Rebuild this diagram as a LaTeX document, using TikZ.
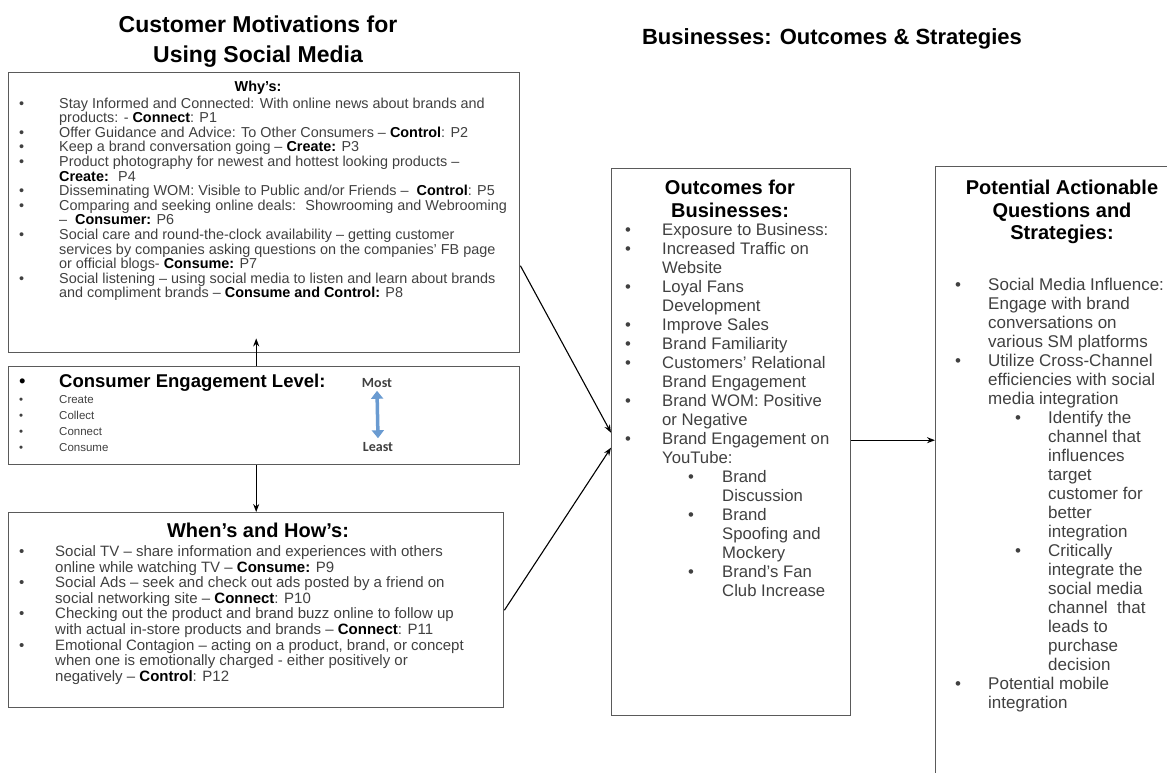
\documentclass[tikz,border=0pt]{standalone}
\usepackage{fontspec}
\setmainfont{Liberation Sans}
\newfontfamily\calib{Carlito}
\usetikzlibrary{arrows.meta}
\definecolor{bodygray}{HTML}{404040}
\definecolor{boxgray}{HTML}{5A5A5A}
\definecolor{lightblue}{HTML}{6A9BD1}
\newcommand{\kw}[1]{\textbf{\color{black}#1}}
\newcommand{\bu}[1]{\makebox[#1pt][l]{•}}
\newcommand{\ind}[1]{\hspace*{#1pt}}
\begin{document}
\begin{tikzpicture}[x=1pt,y=-1pt,
  box/.style={draw=boxgray, line width=1.4pt, anchor=north west, inner sep=0pt},
  txt/.style={anchor=north west, align=left, inner sep=0pt, text=bodygray},
  head/.style={align=center, inner sep=0pt, text=black, font=\bfseries},
  arr/.style={draw=black, line width=1.1pt, -{Stealth[length=8pt,width=6pt]}},
  ]
\useasboundingbox (0,0) rectangle (1167,772);

% titles
\node[head, anchor=north, font={\fontsize{23}{30}\selectfont\bfseries}] (t1) at (258,16) {Customer Motivations for\\Using Social Media};
\node[head, font={\fontsize{22}{26}\selectfont\bfseries}] (t2) at (832,39) {Businesses: Outcomes \& Strategies};

% boxes
\node[box, minimum width=511pt, minimum height=280pt] (why) at (8,72) {};
\node[box, minimum width=511pt, minimum height=98pt] (eng) at (8,366) {};
\node[box, minimum width=495pt, minimum height=195pt] (when) at (8,512) {};
\node[box, minimum width=239pt, minimum height=547pt] (out) at (611,168) {};
\node[box, minimum width=270pt, minimum height=640pt] (strat) at (935,166) {};

% Why's
\node[head, font={\fontsize{14.4}{15}\selectfont\bfseries}] (whyhead) at (258,88) {Why's:};
\node[txt, font={\fontsize{14.4}{14.6}\selectfont}] (whytxt) at (19,97.5) {%
\bu{40}Stay Informed and Connected: With online news about brands and\\
\ind{40}products: - \kw{Connect}: P1\\
\bu{40}Offer Guidance and Advice: To Other Consumers – \kw{Control}: P2\\
\bu{40}Keep a brand conversation going – \kw{Create:} P3\\
\bu{40}Product photography for newest and hottest looking products –\\
\ind{40}\kw{Create:}~ P4\\
\bu{40}Disseminating WOM: Visible to Public and/or Friends – ~\kw{Control}: P5\\
\bu{40}Comparing and seeking online deals: ~Showrooming and Webrooming\\
\ind{40}– ~\kw{Consumer:} P6\\
\bu{40}Social care and round-the-clock availability – getting customer\\
\ind{40}services by companies asking questions on the companies’ FB page\\
\ind{40}or official blogs- \kw{Consume:} P7\\
\bu{40}Social listening – using social media to listen and learn about brands\\
\ind{40}and compliment brands – \kw{Consume and Control:} P8};

% Engagement
\node[txt, anchor=west, text=black, font={\fontsize{18.5}{20}\selectfont}] (enghead) at (19,383) {\bu{40}\textbf{Consumer Engagement Level:}};
\node[txt, font={\fontsize{11.5}{16}\selectfont}] (engtxt) at (19,395.6) {%
\bu{40}Create\\
\bu{40}Collect\\
\bu{40}Connect\\
\bu{40}Consume};
\node[inner sep=0pt, font={\calib\fontsize{14}{16}\selectfont\bfseries}, text=bodygray] (most) at (377,383) {Most};
\node[inner sep=0pt, font={\calib\fontsize{14}{16}\selectfont\bfseries}, text=bodygray] (least) at (378,447) {Least};
\draw[draw=lightblue, line width=3.5pt, {Triangle[length=8pt,width=12pt]}-{Triangle[length=8pt,width=12pt]}] ([yshift=-3pt]most.south) -- ([yshift=4pt]least.north);

% When's
\node[head, font={\fontsize{20}{22}\selectfont\bfseries}] (whenhead) at (258,530) {When's and How's:};
\node[txt, font={\fontsize{15}{15.6}\selectfont}] (whentxt) at (19,545.5) {%
\bu{36}Social TV – share information and experiences with others\\
\ind{36}online while watching TV – \kw{Consume:} P9\\
\bu{36}Social Ads – seek and check out ads posted by a friend on\\
\ind{36}social networking site – \kw{Connect}: P10\\
\bu{36}Checking out the product and brand buzz online to follow up\\
\ind{36}with actual in-store products and brands – \kw{Connect}: P11\\
\bu{36}Emotional Contagion – acting on a product, brand, or concept\\
\ind{36}when one is emotionally charged - either positively or\\
\ind{36}negatively – \kw{Control}: P12};

% Outcomes
\node[head, anchor=north, font={\fontsize{20}{22.5}\selectfont\bfseries}] (outhead) at (730,180) {Outcomes for\\Businesses:};
\node[txt, font={\fontsize{16.7}{19}\selectfont}] (outtxt) at (625,223) {%
\bu{37}Exposure to Business:\\
\bu{37}Increased Traffic on\\
\ind{37}Website\\
\bu{37}Loyal Fans\\
\ind{37}Development\\
\bu{37}Improve Sales\\
\bu{37}Brand Familiarity\\
\bu{37}Customers’ Relational\\
\ind{37}Brand Engagement\\
\bu{37}Brand WOM: Positive\\
\ind{37}or Negative\\
\bu{37}Brand Engagement on\\
\ind{37}YouTube:\\
\ind{63}\bu{34}Brand\\
\ind{97}Discussion\\
\ind{63}\bu{34}Brand\\
\ind{97}Spoofing and\\
\ind{97}Mockery\\
\ind{63}\bu{34}Brand’s Fan\\
\ind{97}Club Increase};

% Strategies
\node[head, anchor=north, font={\fontsize{20}{22.5}\selectfont\bfseries}] (strathead) at (1062,180) {Potential Actionable\\Questions and\\Strategies:};
\node[txt, font={\fontsize{17}{19}\selectfont}] (strattxt) at (955,278) {%
\bu{33}Social Media Influence:\\
\ind{33}Engage with brand\\
\ind{33}conversations on\\
\ind{33}various SM platforms\\
\bu{33}Utilize Cross-Channel\\
\ind{33}efficiencies with social\\
\ind{33}media integration\\
\ind{60}\bu{33}Identify the\\
\ind{93}channel that\\
\ind{93}influences\\
\ind{93}target\\
\ind{93}customer for\\
\ind{93}better\\
\ind{93}integration\\
\ind{60}\bu{33}Critically\\
\ind{93}integrate the\\
\ind{93}social media\\
\ind{93}channel ~that\\
\ind{93}leads to\\
\ind{93}purchase\\
\ind{93}decision\\
\bu{33}Potential mobile\\
\ind{33}integration};

% connectors
\draw[arr] (eng.north -| when.north) -- ([yshift=15pt]why.south -| when.north);
\draw[arr] (eng.south -| when.north) -- (when.north);
\draw[arr] ([yshift=-53pt]why.east) -- ([yshift=9.5pt]out.west);
\draw[arr] (when.east) -- ([yshift=-5.5pt]out.west);
\draw[arr] ([yshift=2pt]out.east) -- ([yshift=2pt]out.east -| strat.west);
\end{tikzpicture}
\end{document}
